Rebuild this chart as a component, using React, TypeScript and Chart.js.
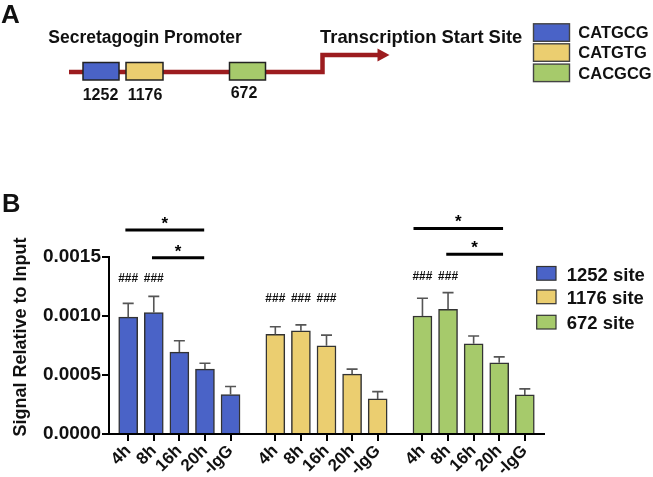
import React, { useEffect, useRef } from "react";
import { Chart, registerables } from "chart.js";

Chart.register(...registerables);

// ---------- data ----------
const siteLabels = ["1252 site", "1176 site", "672 site"];
const timeLabels = ["4h", "8h", "16h", "20h", "-IgG"];
const groupStart = [0, 5.75, 11.5];
const blueMeans = [0.00099, 0.00103, 0.000694, 0.00055, 0.000334];
const blueErr = [0.000117, 0.000136, 0.000096, 0.00005, 0.000068];
const yellowMeans = [0.000844, 0.000875, 0.000748, 0.000507, 0.000297];
const yellowErr = [0.000065, 0.00005, 0.00009, 0.000043, 0.000062];
const greenMeans = [0.001, 0.001057, 0.000765, 0.000603, 0.000331];
const greenErr = [0.00015, 0.000141, 0.000065, 0.000051, 0.000051];
const hashMarks = [
  [true, true, false, false, false],
  [true, true, true, false, false],
  [true, true, false, false, false],
];
const hashY = [0.00132, 0.00115, 0.00133];
const yTicks = [0, 0.0005, 0.001, 0.0015];
const sigStart = [-0.11, 0.93, 11.15, 12.43];
const sigEnd = [2.97, 2.97, 14.65, 14.65];
const sigY = [0.001728, 0.001493, 0.001742, 0.001524];
const motifLabels = ["CATGCG", "CATGTG", "CACGCG"];
const siteNumbers = ["1252", "1176", "672"];
const promoterTitle = "Secretagogin Promoter";
const tssTitle = "Transcription Start Site";
const yTitle = "Signal Relative to Input";

const colors = ["#4a63c7", "#ebce70", "#a6ca6b"];
const FONT = '"Liberation Sans", Arial, Helvetica, sans-serif';
const INK = "#111";

const means = [blueMeans, yellowMeans, greenMeans];
const errs = [blueErr, yellowErr, greenErr];
const tickPositions: number[] = [];
const tickNames: string[] = [];
groupStart.forEach((g) => timeLabels.forEach((t, i) => { tickPositions.push(g + i); tickNames.push(t); }));

const overlay = {
  id: "overlay",
  afterDatasetsDraw(chart: any) {
    const ctx = chart.ctx;
    const ys = chart.scales.y;
    ctx.save();
    means.forEach((arr, d) => {
      const meta = chart.getDatasetMeta(d);
      arr.forEach((v, i) => {
        const el = meta.data[i];
        const x = el.x;
        const yb = ys.getPixelForValue(v);
        const yt = ys.getPixelForValue(v + errs[d][i]);
        ctx.strokeStyle = "#555";
        ctx.lineWidth = 1.6;
        ctx.beginPath();
        ctx.moveTo(x, yb);
        ctx.lineTo(x, yt);
        ctx.moveTo(x - 5.5, yt);
        ctx.lineTo(x + 5.5, yt);
        ctx.stroke();
      });
    });
    ctx.restore();
  },
  afterDraw(chart: any) {
    const ctx = chart.ctx;
    const xs = chart.scales.x;
    const ys = chart.scales.y;
    ctx.save();
    ctx.fillStyle = INK;
    ctx.textAlign = "left";
    ctx.textBaseline = "alphabetic";
    ctx.font = `bold 26px ${FONT}`;
    ctx.fillText("A", 1, 22.7);
    ctx.font = `bold 25.5px ${FONT}`;
    ctx.fillText("B", 2, 211.7);

    ctx.font = `bold 17.5px ${FONT}`;
    ctx.fillText(promoterTitle, 48.3, 43.3);
    ctx.font = `bold 18.4px ${FONT}`;
    ctx.fillText(tssTitle, 320, 43.3);

    ctx.strokeStyle = "#9c1c1f";
    ctx.fillStyle = "#9c1c1f";
    ctx.lineWidth = 4.5;
    ctx.lineJoin = "miter";
    ctx.beginPath();
    ctx.moveTo(69, 72);
    ctx.lineTo(322.5, 72);
    ctx.lineTo(322.5, 55);
    ctx.lineTo(380, 55);
    ctx.stroke();
    ctx.beginPath();
    ctx.moveTo(377.5, 48.5);
    ctx.lineTo(389.5, 55);
    ctx.lineTo(377.5, 61.5);
    ctx.closePath();
    ctx.fill();

    const boxX = [83, 126, 229.5];
    const boxW = [36, 37, 36];
    const numX = [100.5, 145, 244];
    const numY = [100, 100, 98.3];
    boxX.forEach((bx, i) => {
      ctx.fillStyle = colors[i];
      ctx.fillRect(bx, 62.5, boxW[i], 17.5);
      ctx.strokeStyle = "#222";
      ctx.lineWidth = 1.5;
      ctx.strokeRect(bx, 62.5, boxW[i], 17.5);
      ctx.fillStyle = INK;
      ctx.font = `bold 16px ${FONT}`;
      ctx.textAlign = "center";
      ctx.fillText(siteNumbers[i], numX[i], numY[i]);
    });

    const legAY = [23.8, 43.8, 64.1];
    const legATextY = [37.7, 57.5, 79.2];
    motifLabels.forEach((m, i) => {
      ctx.fillStyle = colors[i];
      ctx.fillRect(533.5, legAY[i], 36, 17.5);
      ctx.strokeStyle = "#444";
      ctx.lineWidth = 1.4;
      ctx.strokeRect(533.5, legAY[i], 36, 17.5);
      ctx.fillStyle = INK;
      ctx.textAlign = "left";
      ctx.font = `bold 16.5px ${FONT}`;
      ctx.fillText(m, 578.3, legATextY[i]);
    });

    const legBY = [266.5, 290, 315.3];
    const legBTextY = [280.5, 304.2, 329.2];
    siteLabels.forEach((s, i) => {
      ctx.fillStyle = colors[i];
      ctx.fillRect(536.7, legBY[i], 19.3, 13.7);
      ctx.strokeStyle = "#333";
      ctx.lineWidth = 1.2;
      ctx.strokeRect(536.7, legBY[i], 19.3, 13.7);
      ctx.fillStyle = INK;
      ctx.textAlign = "left";
      ctx.font = `bold 18.5px ${FONT}`;
      ctx.fillText(s, 566.7, legBTextY[i]);
    });

    ctx.save();
    ctx.translate(26.2, 337);
    ctx.rotate(-Math.PI / 2);
    ctx.textAlign = "center";
    ctx.font = `bold 18px ${FONT}`;
    ctx.fillStyle = INK;
    ctx.fillText(yTitle, 0, 0);
    ctx.restore();

    ctx.font = `bold 12px ${FONT}`;
    ctx.textAlign = "center";
    ctx.textBaseline = "middle";
    ctx.fillStyle = INK;
    hashMarks.forEach((row, g) => {
      row.forEach((on, i) => {
        if (!on) return;
        const x = xs.getPixelForValue(groupStart[g] + i);
        ctx.fillText("###", x, ys.getPixelForValue(hashY[g]));
      });
    });

    ctx.textBaseline = "alphabetic";
    ctx.strokeStyle = "#000";
    ctx.lineWidth = 3;
    sigY.forEach((sy, k) => {
      const y = ys.getPixelForValue(sy);
      const x1 = xs.getPixelForValue(sigStart[k]);
      const x2 = xs.getPixelForValue(sigEnd[k]);
      ctx.beginPath();
      ctx.moveTo(x1, y);
      ctx.lineTo(x2, y);
      ctx.stroke();
      ctx.font = `bold 17px ${FONT}`;
      ctx.fillStyle = "#000";
      ctx.fillText("*", (x1 + x2) / 2, y - 1);
    });
    ctx.restore();
  },
};

export default function App() {
  const ref = useRef<HTMLCanvasElement | null>(null);
  useEffect(() => {
    if (!ref.current) return;
    const datasets = means.map((arr, d) => ({
      label: siteLabels[d],
      data: arr.map((v, i) => ({ x: groupStart[d] + i, y: v })),
      backgroundColor: colors[d],
      borderColor: "#333",
      borderWidth: 1.5,
      barThickness: 19,
      grouped: false,
    }));
    const chart = new Chart(ref.current, {
      type: "bar",
      data: { datasets } as any,
      options: {
        animation: false,
        responsive: false,
        maintainAspectRatio: false,
        devicePixelRatio: 1,
        layout: { padding: { left: 0, right: 109, top: 257, bottom: 0 } },
        plugins: { legend: { display: false }, tooltip: { enabled: false } },
        scales: {
          x: {
            type: "linear",
            min: -0.75,
            max: 16.25,
            offset: false,
            afterFit: (s: any) => { s.height = 43; },
            afterBuildTicks: (s: any) => { s.ticks = tickPositions.map((v) => ({ value: v })); },
            grid: { display: true, drawOnChartArea: false, drawTicks: true, tickLength: 7, color: "#000", lineWidth: 2, offset: false },
            border: { display: true, color: "#000", width: 2 },
            ticks: {
              autoSkip: false,
              minRotation: 45,
              maxRotation: 45,
              padding: 0,
              color: INK,
              font: { family: FONT, size: 17, weight: "bold" },
              callback: (_v: any, i: number) => tickNames[i],
            },
          },
          y: {
            min: 0,
            max: 0.0015,
            afterFit: (s: any) => { s.width = 109; },
            afterBuildTicks: (s: any) => { s.ticks = yTicks.map((v) => ({ value: v })); },
            grid: { display: true, drawOnChartArea: false, drawTicks: true, tickLength: 7, color: "#000", lineWidth: 2 },
            border: { display: true, color: "#000", width: 2 },
            ticks: {
              padding: 1,
              color: INK,
              font: { family: FONT, size: 19, weight: "bold" },
              callback: (v: any) => Number(v).toFixed(4),
            },
          },
        },
      } as any,
      plugins: [overlay],
    });
    return () => chart.destroy();
  }, []);
  return (
    <div style={{ position: "fixed", left: 0, top: 0, width: 653, height: 477, background: "#fff" }}>
      <canvas ref={ref} width={653} height={477} style={{ width: 653, height: 477 }} />
    </div>
  );
}
